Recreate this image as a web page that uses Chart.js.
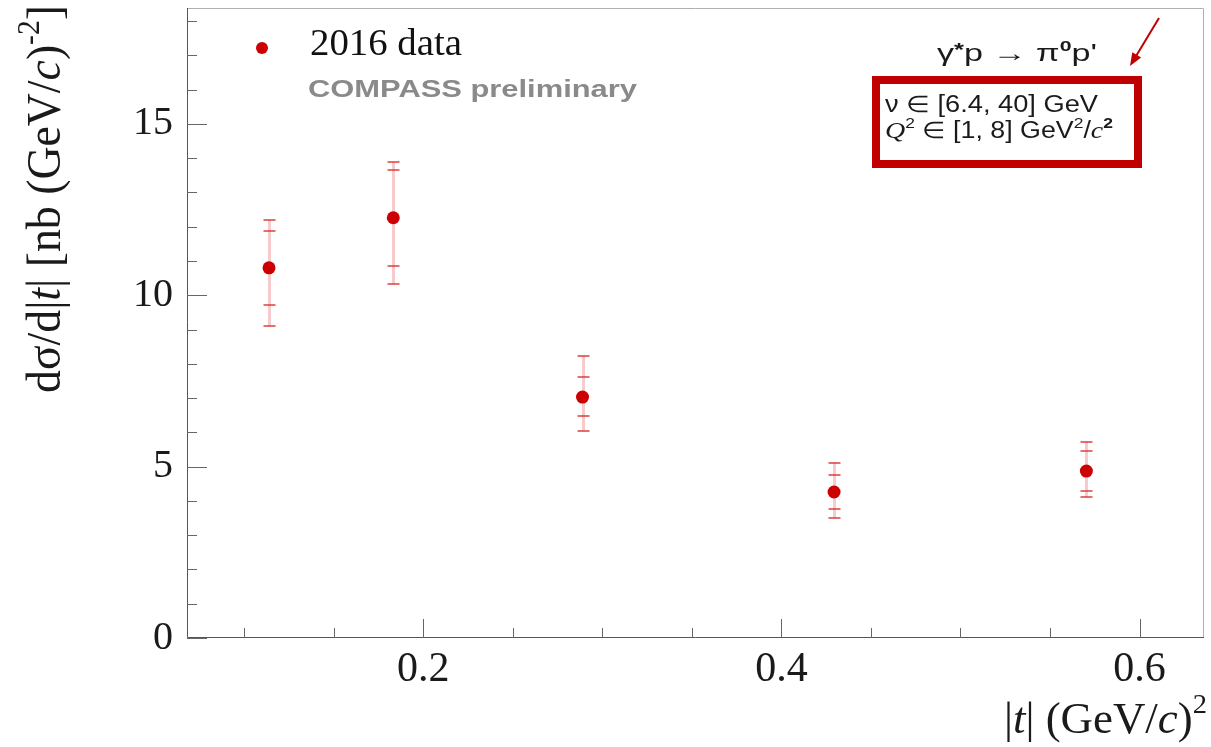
<!DOCTYPE html>
<html>
<head>
<meta charset="utf-8">
<script src="https://cdn.jsdelivr.net/npm/chart.js@4.4.0/dist/chart.umd.min.js"></script>
<style>
html, body { margin: 0; padding: 0; background: #fff; }
#wrap { width: 1211px; height: 747px; }
</style>
</head>
<body>
<div id="wrap"><canvas id="chart" width="1211" height="747"></canvas></div>
<script>
// |t| bins and cross-section values
const tValues = [0.1138, 0.1832, 0.2889, 0.4294, 0.5703];
const sigmaValues = [10.80, 12.26, 7.03, 4.26, 4.87];
// stat (inner) and total (outer) error bar ends
const statLow = [9.72, 10.85, 6.48, 3.76, 4.29];
const statHigh = [11.88, 13.65, 7.62, 4.76, 5.46];
const totLow = [9.10, 10.33, 6.04, 3.50, 4.11];
const totHigh = [12.20, 13.88, 8.23, 5.11, 5.72];
// tick labels
const xTickLabels = [0.2, 0.4, 0.6];
const yTickLabels = [0, 5, 10, 15];
const xMinorTicks = [0.1, 0.15, 0.25, 0.3, 0.35, 0.45, 0.5, 0.55];
const yMinorTicks = [1, 2, 3, 4, 6, 7, 8, 9, 11, 12, 13, 14, 16, 17, 18];

const RED = '#cc0000';
const SERIF = '"Liberation Serif", "Times New Roman", serif';
const SANS = '"Liberation Sans", Arial, sans-serif';

function richWidth(ctx, parts) {
    let w = 0;
    parts.forEach(function (p) { ctx.font = p.font; w += ctx.measureText(p.t).width; });
    return w;
}
// draw a run of text pieces, squeezed or stretched to a given width
function richText(ctx, x, y, parts, width) {
    const natural = richWidth(ctx, parts);
    const sx = width ? width / natural : 1;
    ctx.save();
    ctx.translate(x, y);
    ctx.scale(sx, 1);
    let cx = 0;
    parts.forEach(function (p) {
        ctx.font = p.font;
        ctx.fillStyle = p.color || '#1a1a1a';
        ctx.fillText(p.t, cx, p.dy || 0);
        cx += ctx.measureText(p.t).width;
    });
    ctx.restore();
}

// error bars, drawn below the markers
const errorBars = {
    id: 'errorBars',
    beforeDatasetsDraw(chart) {
        const ctx = chart.ctx, xs = chart.scales.x, ys = chart.scales.y;
        ctx.save();
        tValues.forEach(function (t, i) {
            const px = Math.round(xs.getPixelForValue(t)) + 0.5;
            ctx.strokeStyle = 'rgba(225,70,70,0.28)';
            ctx.lineWidth = 3;
            ctx.beginPath();
            ctx.moveTo(px, ys.getPixelForValue(totLow[i]));
            ctx.lineTo(px, ys.getPixelForValue(totHigh[i]));
            ctx.stroke();
            ctx.strokeStyle = 'rgba(215,50,50,0.7)';
            ctx.lineWidth = 2;
            [statLow[i], statHigh[i], totLow[i], totHigh[i]].forEach(function (v) {
                const py = Math.round(ys.getPixelForValue(v));
                ctx.beginPath();
                ctx.moveTo(px - 6, py);
                ctx.lineTo(px + 6, py);
                ctx.stroke();
            });
        });
        ctx.restore();
    }
};

// frame, inside ticks and annotations
const decorations = {
    id: 'decorations',
    afterDraw(chart) {
        const ctx = chart.ctx, xs = chart.scales.x, ys = chart.scales.y;
        const a = chart.chartArea;
        ctx.save();
        // frame
        ctx.lineWidth = 1;
        ctx.strokeStyle = '#b0b0b0';
        ctx.beginPath();
        ctx.moveTo(a.left, a.top + 0.5); ctx.lineTo(a.right - 0.5, a.top + 0.5); ctx.lineTo(a.right - 0.5, a.bottom);
        ctx.stroke();
        ctx.strokeStyle = '#555';
        ctx.beginPath();
        ctx.moveTo(a.left + 0.5, a.top); ctx.lineTo(a.left + 0.5, a.bottom - 0.5); ctx.lineTo(a.right, a.bottom - 0.5);
        ctx.stroke();
        // ticks
        ctx.strokeStyle = '#666';
        xTickLabels.forEach(function (v) {
            const px = Math.round(xs.getPixelForValue(v)) + 0.5;
            ctx.beginPath(); ctx.moveTo(px, a.bottom); ctx.lineTo(px, a.bottom - 19); ctx.stroke();
        });
        xMinorTicks.forEach(function (v) {
            const px = Math.round(xs.getPixelForValue(v)) + 0.5;
            ctx.beginPath(); ctx.moveTo(px, a.bottom); ctx.lineTo(px, a.bottom - 10); ctx.stroke();
        });
        yTickLabels.forEach(function (v) {
            const py = Math.round(ys.getPixelForValue(v)) + 0.5;
            ctx.beginPath(); ctx.moveTo(a.left, py); ctx.lineTo(a.left + 20, py); ctx.stroke();
        });
        yMinorTicks.forEach(function (v) {
            const py = Math.round(ys.getPixelForValue(v)) + 0.5;
            ctx.beginPath(); ctx.moveTo(a.left, py); ctx.lineTo(a.left + 10, py); ctx.stroke();
        });

        ctx.textBaseline = 'alphabetic';
        ctx.textAlign = 'left';

        // y title, rotated, aligned to top of axis
        const yParts = [
            { t: 'd\u03c3/d|', font: '48px ' + SERIF },
            { t: 't', font: 'italic 48px ' + SERIF },
            { t: '| [nb (GeV/', font: '48px ' + SERIF },
            { t: 'c', font: 'italic 48px ' + SERIF },
            { t: ')', font: '48px ' + SERIF },
            { t: '-2', font: '31px ' + SERIF, dy: -21 },
            { t: ']', font: '48px ' + SERIF }
        ];
        ctx.save();
        ctx.translate(60, 393);
        ctx.rotate(-Math.PI / 2);
        richText(ctx, 0, 0, yParts, 388);
        ctx.restore();

        // x title, right aligned
        const xParts = [
            { t: '|', font: '44px ' + SERIF },
            { t: 't', font: 'italic 44px ' + SERIF },
            { t: '| (GeV/', font: '44px ' + SERIF },
            { t: 'c', font: 'italic 44px ' + SERIF },
            { t: ')', font: '44px ' + SERIF },
            { t: '2', font: '28px ' + SERIF, dy: -20 }
        ];
        richText(ctx, 1004, 733, xParts, 203);

        // legend
        ctx.fillStyle = RED;
        ctx.beginPath(); ctx.arc(262, 48, 6, 0, Math.PI * 2); ctx.fill();
        richText(ctx, 310, 55, [{ t: '2016 data', font: '38px ' + SERIF, color: '#111' }], 152);
        richText(ctx, 308, 97, [{ t: 'COMPASS preliminary', font: 'bold 24px ' + SANS, color: '#8a8a8a' }], 329);

        // process label
        richText(ctx, 937, 61, [
            { t: '\u03b3', font: '24px ' + SANS },
            { t: '*', font: 'bold 18px ' + SANS, dy: -5 },
            { t: 'p \u2192 \u03c0', font: '24px ' + SANS },
            { t: '0', font: 'bold 15px ' + SANS, dy: -10 },
            { t: "p'", font: '24px ' + SANS }
        ], 160);

        // red box with kinematic range
        ctx.strokeStyle = '#c00000';
        ctx.lineWidth = 8;
        ctx.strokeRect(876, 80, 262, 84);
        richText(ctx, 885, 112, [
            { t: '\u03bd \u2208 [6.4, 40] GeV', font: '23px ' + SANS }
        ], 213);
        richText(ctx, 885, 138, [
            { t: 'Q', font: 'italic 24px ' + SERIF },
            { t: '2', font: '15px ' + SANS, dy: -10 },
            { t: ' \u2208 [1, 8] GeV', font: '23px ' + SANS },
            { t: '2', font: '15px ' + SANS, dy: -10 },
            { t: '/', font: '23px ' + SANS },
            { t: 'c', font: 'italic 24px ' + SERIF },
            { t: '2', font: 'bold 15px ' + SANS, dy: -10 }
        ], 228);

        // arrow
        ctx.strokeStyle = '#c00000';
        ctx.fillStyle = '#c00000';
        ctx.lineWidth = 2;
        const x0 = 1159, y0 = 18, x1 = 1130, y1 = 66;
        const ang = Math.atan2(y1 - y0, x1 - x0);
        ctx.beginPath(); ctx.moveTo(x0, y0); ctx.lineTo(x1 - 8 * Math.cos(ang), y1 - 8 * Math.sin(ang)); ctx.stroke();
        ctx.beginPath();
        ctx.moveTo(x1, y1);
        ctx.lineTo(x1 - 14 * Math.cos(ang - 0.38), y1 - 14 * Math.sin(ang - 0.38));
        ctx.lineTo(x1 - 14 * Math.cos(ang + 0.38), y1 - 14 * Math.sin(ang + 0.38));
        ctx.closePath();
        ctx.fill();
        ctx.restore();
    }
};

const ctx = document.getElementById('chart').getContext('2d');
const chart = new Chart(ctx, {
    type: 'scatter',
    data: {
        datasets: [{
            label: '2016 data',
            data: tValues.map((t, i) => ({ x: t, y: sigmaValues[i] })),
            backgroundColor: RED,
            borderWidth: 0,
            pointRadius: 6.5
        }]
    },
    options: {
        responsive: false,
        animation: false,
        layout: { padding: { top: 8, right: 7, left: 0, bottom: 0 } },
        plugins: { legend: { display: false }, tooltip: { enabled: false } },
        scales: {
            x: {
                type: 'linear',
                min: 0.068,
                max: 0.636,
                afterBuildTicks: function (scale) { scale.ticks = xTickLabels.map(v => ({ value: v })); },
                afterFit: function (scale) {
                    scale.height = 109;
                    scale.paddingLeft = 0;
                    scale.paddingRight = 0;
                },
                grid: { display: false, drawTicks: false },
                border: { display: false },
                ticks: {
                    padding: 7,
                    maxRotation: 0,
                    color: '#1a1a1a',
                    font: { family: SERIF, size: 42 },
                    callback: v => v.toFixed(1)
                }
            },
            y: {
                type: 'linear',
                min: 0,
                max: 18.38,
                afterBuildTicks: function (scale) { scale.ticks = yTickLabels.map(v => ({ value: v })); },
                afterFit: function (scale) {
                    scale.width = 187;
                    scale.paddingTop = 0;
                    scale.paddingBottom = 0;
                },
                grid: { display: false, drawTicks: false },
                border: { display: false },
                ticks: {
                    padding: 14,
                    color: '#1a1a1a',
                    font: { family: SERIF, size: 40 },
                    callback: v => String(v)
                }
            }
        }
    },
    plugins: [errorBars, decorations]
});
</script>
</body>
</html>
